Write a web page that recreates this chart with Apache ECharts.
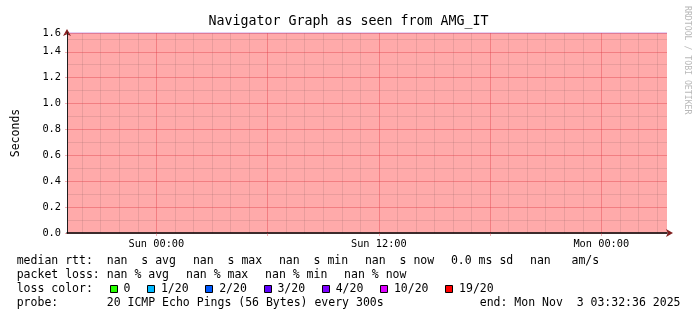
<!DOCTYPE html>
<html>
<head>
<meta charset="utf-8">
<script src="https://cdn.jsdelivr.net/npm/echarts@6/dist/echarts.min.js"></script>
<style>
  html, body { margin: 0; padding: 0; background: #fff; }
  #smokeChart { width: 697px; height: 321px; }
</style>
</head>
<body>
<div id="smokeChart"></div>
<script>
// x values are hours relative to Sun 00:00
var timeRange = [-4.82, 27.543];
var unknownLevel = [1.545, 1.545];

var yTicks = [0, 0.2, 0.4, 0.6, 0.8, 1.0, 1.2, 1.4, 1.545];
var yTickLabels = ['0.0', '0.2', '0.4', '0.6', '0.8', '1.0', '1.2', '1.4', '1.6'];
var yMinorTicks = [0.1, 0.3, 0.5, 0.7, 0.9, 1.1, 1.3, 1.5];

var xMajorHours = [0, 6, 12, 18, 24];
var xLabelHours = [0, 12, 24];
var xLabels = ['Sun 00:00', 'Sun 12:00', 'Mon 00:00'];
var xMinorHours = [-4, -3, -2, -1, 1, 2, 3, 4, 5, 7, 8, 9, 10, 11, 13, 14, 15, 16, 17,
                   19, 20, 21, 22, 23, 25, 26, 27];

var rttItems = ['median rtt:  nan  s avg', 'nan  s max', 'nan  s min', 'nan  s now', '0.0 ms sd', 'nan   am/s'];
var lossItems = ['packet loss: nan % avg', 'nan % max', 'nan % min', 'nan % now'];
var lossLabels = ['0', '1/20', '2/20', '3/20', '4/20', '10/20', '19/20'];
var lossColors = ['#26ff00', '#00b8ff', '#0059ff', '#5e00ff', '#7e00ff', '#dd00ff', '#ff0000'];
var probeText = 'probe:       20 ICMP Echo Pings (56 Bytes) every 300s';
var endText = 'end: Mon Nov  3 03:32:36 2025';

var MONO = 'DejaVu Sans Mono';
var CW = 6.94;   // char width of legend font
var GAP = 16.6;  // rrdtool gap between legend entries
var LX = 16.7;

var gridMajor = 'rgba(222,60,70,0.4)';
var gridMinor = 'rgba(143,100,100,0.2)';

function legendText(x, y, s) {
  return {
    type: 'text', x: x, y: y, silent: true,
    style: { text: s, fill: '#000', font: '11.5px "' + MONO + '"', textVerticalAlign: 'middle' }
  };
}

var graphics = [];
var gx = LX;
rttItems.forEach(function (s) {
  graphics.push(legendText(gx, 261.5, s));
  gx += s.length * CW + GAP;
});
gx = LX;
lossItems.forEach(function (s) {
  graphics.push(legendText(gx, 275.5, s));
  gx += s.length * CW + GAP;
});
graphics.push(legendText(LX, 289.5, 'loss color:'));
gx = LX + 11 * CW + GAP;
lossLabels.forEach(function (s, i) {
  graphics.push({
    type: 'rect', silent: true,
    shape: { x: Math.round(gx) + 0.5, y: 285.5, width: 7, height: 7 },
    style: { fill: lossColors[i], stroke: '#000', lineWidth: 1 }
  });
  graphics.push(legendText(gx + 2 * CW, 289.5, s));
  gx += (s.length + 2) * CW + GAP;
});
graphics.push(legendText(LX, 303.5, probeText));
graphics.push({
  type: 'text', x: 680.5, y: 303.5, silent: true,
  style: { text: endText, fill: '#000', font: '11.5px "' + MONO + '"', textAlign: 'right', textVerticalAlign: 'middle' }
});
graphics.push({
  type: 'text', x: 687, y: 6, rotation: -Math.PI / 2, silent: true,
  style: { text: 'RRDTOOL / TOBI OETIKER', fill: '#b8b8b8', font: '8.2px "' + MONO + '"', textVerticalAlign: 'middle' }
});

var chart = echarts.init(document.getElementById('smokeChart'));

var option = {
  animation: false,
  backgroundColor: '#fff',
  title: {
    text: 'Navigator Graph as seen from AMG_IT',
    left: 'center',
    top: 10,
    textStyle: { fontFamily: MONO, fontSize: 13.3, fontWeight: 'normal', color: '#000' }
  },
  grid: { left: 67, top: 33, width: 600, height: 200, containLabel: false },
  xAxis: [
    {
      type: 'value', min: timeRange[0], max: timeRange[1], z: 5,
      axisLine: { show: true, onZero: false, lineStyle: { color: '#000', width: 1.5 } },
      axisTick: { show: true, length: 3, customValues: xMajorHours, lineStyle: { color: gridMajor } },
      axisLabel: {
        customValues: xLabelHours, margin: 6,
        fontFamily: MONO, fontSize: 10.3, color: '#000',
        formatter: function (v) { return xLabels[xLabelHours.indexOf(v)]; }
      },
      splitLine: { show: true, lineStyle: { color: gridMajor, width: 1 } }
    },
    {
      type: 'value', min: timeRange[0], max: timeRange[1], z: 4, position: 'bottom',
      axisLine: {
        show: true, onZero: false, symbol: ['none', 'arrow'], symbolSize: [6, 7], symbolOffset: [0, 6],
        lineStyle: { color: '#801f1f', opacity: 0 }
      },
      axisTick: { show: false, customValues: xMinorHours },
      axisLabel: { show: false },
      splitLine: { show: true, lineStyle: { color: gridMinor, width: 1 } }
    }
  ],
  yAxis: [
    {
      type: 'value', min: 0, max: yTicks[yTicks.length - 1], z: 5,
      name: 'Seconds', nameLocation: 'middle', nameGap: 45, nameRotate: 90,
      nameTextStyle: { fontFamily: MONO, fontSize: 11.5, color: '#000' },
      axisLine: { show: true, onZero: false, lineStyle: { color: '#1f1f1f', width: 1 } },
      axisTick: { show: true, length: 2, customValues: yTicks, lineStyle: { color: gridMajor } },
      axisLabel: {
        customValues: yTicks, margin: 6,
        fontFamily: MONO, fontSize: 10.3, color: '#000',
        formatter: function (v) { return yTickLabels[yTicks.indexOf(v)]; }
      },
      splitLine: { show: true, lineStyle: { color: gridMajor, width: 1 } }
    },
    {
      type: 'value', min: 0, max: yTicks[yTicks.length - 1], z: 4, position: 'left',
      axisLine: {
        show: true, onZero: false, symbol: ['none', 'arrow'], symbolSize: [6, 7], symbolOffset: [0, 4],
        lineStyle: { color: '#801f1f', opacity: 0 }
      },
      axisTick: { show: false, customValues: yMinorTicks },
      axisLabel: { show: false },
      splitLine: { show: true, lineStyle: { color: gridMinor, width: 1 } }
    }
  ],
  series: [
    {
      name: 'unknown',
      type: 'line',
      xAxisIndex: 0,
      yAxisIndex: 0,
      data: timeRange.map(function (t, i) { return [t, unknownLevel[i]]; }),
      symbol: 'none',
      clip: false,
      z: 1,
      lineStyle: { color: '#c8a0e6', width: 1 },
      areaStyle: { color: '#ffaaaa', opacity: 1 }
    }
  ],
  graphic: graphics
};

chart.setOption(option);
</script>
</body>
</html>
